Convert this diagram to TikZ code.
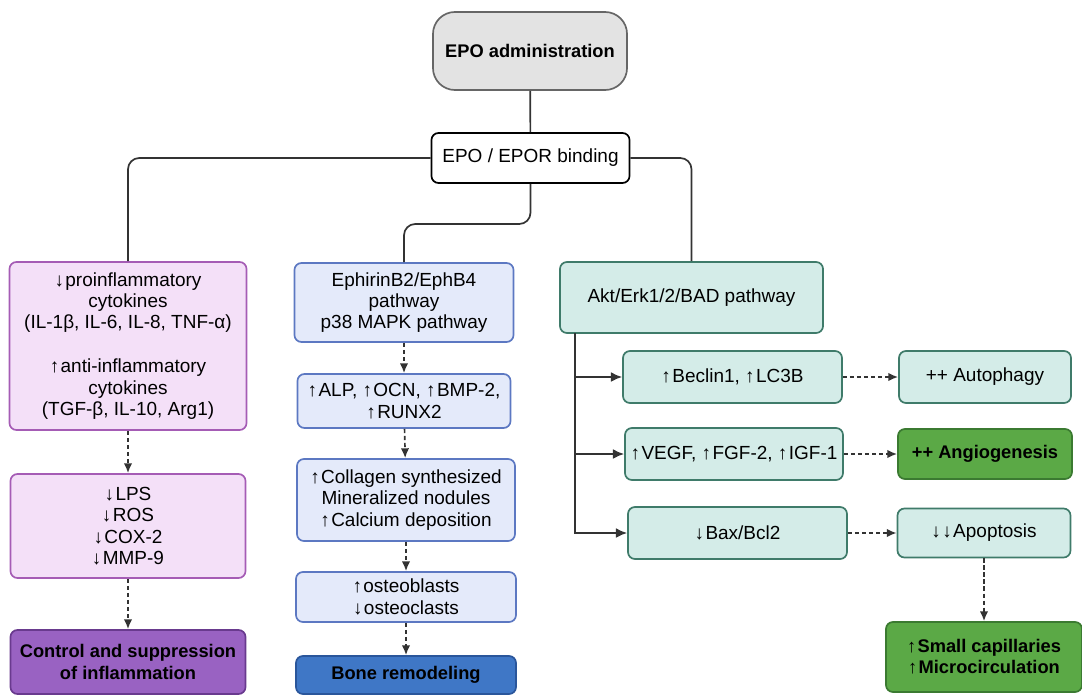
\documentclass[tikz,border=0pt]{standalone}
\usepackage{fontspec}
\setmainfont{Liberation Sans}
\usetikzlibrary{arrows.meta}
\newcommand{\up}{↑\kern1pt}
\newcommand{\dn}{↓\kern1pt}
\definecolor{pinkfill}{HTML}{F4E0F8}
\definecolor{pinkline}{HTML}{A55CB5}
\definecolor{bluefill}{HTML}{E4EAFA}
\definecolor{blueline}{HTML}{5C78C2}
\definecolor{tealfill}{HTML}{D4ECE8}
\definecolor{tealline}{HTML}{3F7B6A}
\definecolor{greenfill}{HTML}{5BA946}
\definecolor{greenline}{HTML}{3B7A31}
\definecolor{purplefill}{HTML}{9962C2}
\definecolor{purpleline}{HTML}{693A8E}
\definecolor{bonefill}{HTML}{3F77C6}
\definecolor{boneline}{HTML}{2A569B}
\definecolor{grayfill}{HTML}{E3E3E3}

\begin{document}
\begin{tikzpicture}
  [x=0.025cm,y=-0.025cm,
   every node/.style={draw,rounded corners=5pt,line width=1.2pt,align=center,inner sep=2pt,
     font=\fontsize{13.5}{15.2}\selectfont},
   boldtext/.style={font=\fontsize{13}{15}\selectfont\bfseries},
   pinkbox/.style={fill=pinkfill,draw=pinkline},
   bluebox/.style={fill=bluefill,draw=blueline},
   tealbox/.style={fill=tealfill,draw=tealline},
   greenbox/.style={fill=greenfill,draw=greenline,boldtext},
   link/.style={line width=1.2pt,draw=black!80,rounded corners=8pt},
   dotarrow/.style={line width=1.2pt,draw=black!80,densely dashed,-{Latex[length=7pt,width=6pt]}},
   solidarrow/.style={line width=1.2pt,draw=black!80,-{Latex[length=8pt,width=7pt]}}]
  \useasboundingbox (0,0) rectangle (1082,695);

  \node (adm) at (530,51) [fill=grayfill,draw=black!60,rounded corners=0.55cm,
    minimum width=4.85cm,minimum height=1.95cm,boldtext] {EPO administration};
  \node (bind) at (530.5,158) [fill=white,minimum width=4.95cm,minimum height=1.25cm] {EPO / EPOR binding};

  \node (inf1) at (128,346) [pinkbox,minimum width=5.925cm,minimum height=4.2cm]
    {\dn proinflammatory\\cytokines\\(IL-1β, IL-6, IL-8, TNF-α)\\[16pt]\up anti-inflammatory\\cytokines\\(TGF-β, IL-10, Arg1)};
  \node (inf2) at (128,526) [pinkbox,minimum width=5.875cm,minimum height=2.6cm]
    {\dn LPS\\\dn ROS\\\dn COX-2\\\dn MMP-9};
  \node (inf3) at (128,662) [fill=purplefill,draw=purpleline,minimum width=5.875cm,minimum height=1.6cm,
    boldtext] {Control and suppression\\of inflammation};

  \node (bone1) at (404,302.5) [bluebox,minimum width=5.475cm,minimum height=1.975cm]
    {EphirinB2/EphB4\\pathway\\p38 MAPK pathway};
  \node (bone2) at (404,401) [bluebox,minimum width=5.325cm,minimum height=1.35cm]
    {\up ALP, \up OCN, \up BMP-2,\\\up RUNX2};
  \node (bone3) at (406,500) [bluebox,minimum width=5.45cm,minimum height=2.05cm]
    {\up Collagen synthesized\\Mineralized nodules\\\up Calcium deposition};
  \node (bone4) at (406,597) [bluebox,minimum width=5.5cm,minimum height=1.25cm]
    {\up osteoblasts\\\dn osteoclasts};
  \node (bone5) at (406,675) [fill=bonefill,draw=boneline,minimum width=5.5cm,minimum height=0.95cm,
    boldtext] {Bone remodeling};

  \node (akt) at (691.5,297.5) [tealbox,minimum width=6.575cm,minimum height=1.775cm] {Akt/Erk1/2/BAD pathway};
  \node (bec) at (732.5,377) [tealbox,minimum width=5.475cm,minimum height=1.3cm] {\up Beclin1, \up LC3B};
  \node (aut) at (985,377) [tealbox,minimum width=4.3cm,minimum height=1.3cm] {++ Autophagy};
  \node (veg) at (734,454) [tealbox,minimum width=5.45cm,minimum height=1.3cm] {\up VEGF, \up FGF-2, \up IGF-1};
  \node (ang) at (985,454) [greenbox,minimum width=4.35cm,minimum height=1.25cm] {++ Angiogenesis};
  \node (bax) at (737.5,533) [tealbox,minimum width=5.475cm,minimum height=1.3cm] {\dn Bax/Bcl2};
  \node (apo) at (984,533) [tealbox,minimum width=4.325cm,minimum height=1.225cm] {\dn\dn Apoptosis};
  \node (cap) at (984,657) [greenbox,minimum width=4.9cm,minimum height=1.75cm]
    {\up Small capillaries\\\up Microcirculation};

  \coordinate (mid) at (404,224);
  \coordinate (trunk) at (575,333);

  \draw[link] (adm) -- (bind);
  \draw[link] (bind.west) -| (inf1.north);
  \draw[link] (bind.east) -| (akt.north);
  \draw[link] (bind.south) |- (mid) -- (bone1.north);

  \draw[solidarrow] (trunk) |- (bax.west);
  \foreach \to in {bec,veg}
    \draw[solidarrow] (trunk |- \to.west) -- (\to.west);

  \foreach \from/\to in {inf1/inf2,inf2/inf3,bone1/bone2,bone2/bone3,bone3/bone4,bone4/bone5,
                         bec/aut,veg/ang,bax/apo,apo/cap}
    \draw[dotarrow] (\from) -- (\to);

\end{tikzpicture}
\end{document}
